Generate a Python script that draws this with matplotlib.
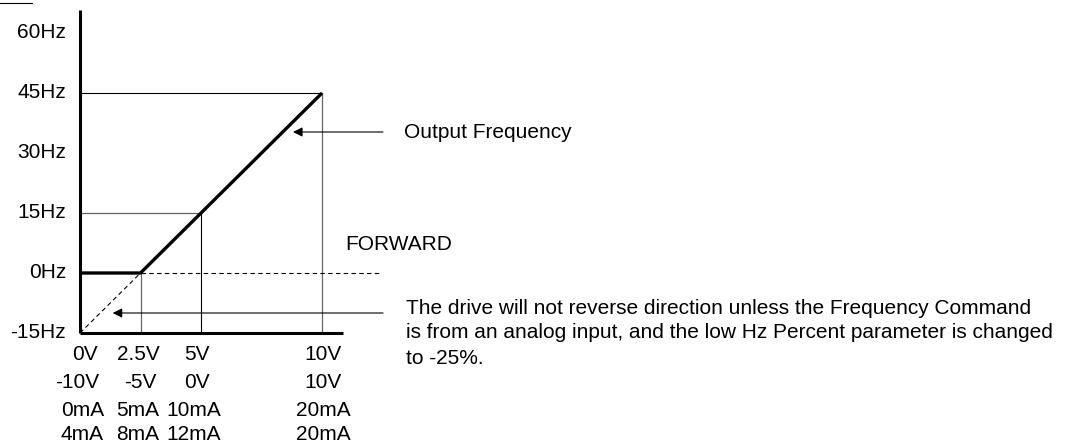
import numpy as np
import matplotlib.pyplot as plt

plt.rcParams['font.family'] = ['Liberation Sans', 'DejaVu Sans']

# frequency ticks (Hz) and input scale rows
hz_ticks = [60, 45, 30, 15, 0, -15]
hz_labels = ['60Hz', '45Hz', '30Hz', '15Hz', '0Hz', '-15Hz']
row_labels = [
    ['0V', '2.5V', '5V', '10V'],
    ['-10V', '-5V', '0V', '10V'],
    ['0mA', '5mA', '10mA', '20mA'],
    ['4mA', '8mA', '12mA', '20mA'],
]
row_x = [
    [0.2, 2.4, 4.85, 10.05],
    [-0.12, 2.5, 4.85, 10.05],
    [0.12, 2.4, 4.7, 10.05],
    [0.08, 2.4, 4.7, 10.05],
]
row_y = [-20.5, -27.25, -34.25, -40.5]

# output frequency curve
curve_v = [0, 2.5, 10]
curve_hz = [0, 0, 45]
# reverse (dashed) part
rev_v = [0, 2.5]
rev_hz = [-15, 0]

note = ['The drive will not reverse direction unless the Frequency Command',
        'is from an analog input, and the low Hz Percent parameter is changed',
        'to -25%.']
note_y = [-8.75, -15.0, -21.25]

fig = plt.figure(figsize=(10.74, 4.45), dpi=100)
ax = fig.add_axes([0, 0, 1, 1])
ax.set_xlim(-3.306, 41.07)
ax.set_ylim(-43, 68.25)
ax.axis('off')

# guide lines
ax.plot([0, 10], [45, 45], color='black', lw=0.8)
ax.plot([0, 5], [15, 15], color='#666666', lw=0.9)
ax.plot([2.5, 2.5], [-15, 0], color='#666666', lw=0.9)
ax.plot([5, 5], [-15, 15], color='black', lw=0.8)
ax.plot([10, 10], [-15, 45], color='#666666', lw=0.9)
ax.plot([2.5, 12.4], [0, 0], color='black', lw=0.8, ls=(0, (4, 3)))
ax.plot(rev_v, rev_hz, color='black', lw=0.8, ls=(0, (4, 3)))

# axes
ax.plot([0, 0], [65.8, -15], color='black', lw=2.2, solid_capstyle='butt')
ax.plot([0, 10.87], [-15, -15], color='black', lw=2.2, solid_capstyle='butt')

# curve
ax.plot(curve_v, curve_hz, color='black', lw=2.4, solid_capstyle='butt')

# top-left fragment
ax.plot([-3.306, -1.98], [67.5, 67.5], color='black', lw=0.8)

for h, lab in zip(hz_ticks, hz_labels):
    ax.text(-0.58, h, lab, ha='right', va='center', fontsize=15)

for labs, xs, y in zip(row_labels, row_x, row_y):
    for lab, x in zip(labs, xs):
        ax.text(x, y, lab, ha='center', va='center', fontsize=15)

arrow = dict(arrowstyle='-|>', color='black', lw=0.8, mutation_scale=14,
             shrinkA=0, shrinkB=0)
ax.annotate('', xy=(8.8, 35.25), xytext=(12.52, 35.25), arrowprops=arrow)
ax.text(13.4, 35.25, 'Output Frequency', ha='left', va='center', fontsize=15)
ax.text(10.95, 7.0, 'FORWARD', ha='left', va='center', fontsize=15)
ax.annotate('', xy=(1.35, -10.0), xytext=(12.52, -10.0), arrowprops=arrow)

for line, y in zip(note, note_y):
    ax.text(13.45, y, line, ha='left', va='center', fontsize=15)

fig.savefig('out.png', dpi=100)
